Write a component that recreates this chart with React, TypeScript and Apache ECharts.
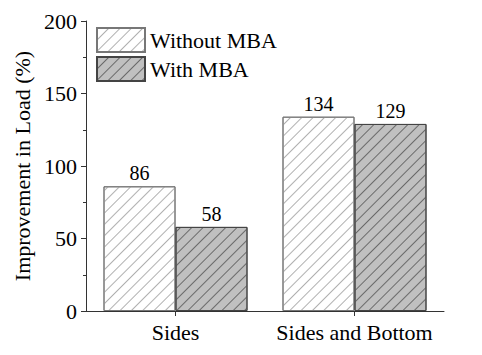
import React, { useEffect, useRef } from "react";
import * as echarts from "echarts";

const categories = ["Sides", "Sides and Bottom"];
const withoutMBA = [86, 134];
const withMBA = [58, 129];
const seriesNames = ["Without MBA", "With MBA"];

const FONT = "Times New Roman, Liberation Serif, DejaVu Serif, serif";

export default function App() {
  const ref = useRef<HTMLDivElement>(null);
  useEffect(() => {
    const chart = echarts.init(ref.current!, null, { renderer: "svg" });
    const hatch = (color: string) => ({
      symbol: "rect",
      symbolSize: 1,
      dashArrayX: [1, 0],
      dashArrayY: [1, 6.5],
      rotation: -Math.PI / 4,
      color,
    });
    const text = { fontFamily: FONT, color: "#000" };
    chart.setOption({
      animation: false,
      backgroundColor: "#ffffff",
      textStyle: { fontFamily: FONT },
      grid: { left: 86, right: 38, top: 21, bottom: 44 },
      legend: {
        orient: "vertical",
        left: 91,
        top: 22,
        itemWidth: 48,
        itemHeight: 24,
        itemGap: 3,
        icon: "rect",
        textStyle: { ...text, fontSize: 22 },
        data: seriesNames,
      },
      xAxis: {
        type: "category",
        data: categories,
        axisLine: { show: true, lineStyle: { color: "#333", width: 1 } },
        axisTick: { show: true, alignWithLabel: true, length: 5, lineStyle: { color: "#333" } },
        axisLabel: { ...text, fontSize: 22, margin: 10, interval: 0 },
        splitLine: { show: false },
      },
      yAxis: {
        type: "value",
        min: 0,
        max: 200,
        interval: 50,
        name: "Improvement in Load (%)",
        nameLocation: "middle",
        nameGap: 45,
        nameTextStyle: { ...text, fontSize: 22 },
        axisLine: { show: true, lineStyle: { color: "#333", width: 1 } },
        axisTick: { show: true, length: 5, lineStyle: { color: "#333" } },
        minorTick: { show: true, splitNumber: 2, length: 3, lineStyle: { color: "#333" } },
        axisLabel: { ...text, fontSize: 22, margin: 9 },
        splitLine: { show: false },
      },
      series: [
        {
          name: seriesNames[0],
          type: "bar",
          data: withoutMBA,
          barWidth: 72,
          barGap: "0%",
          itemStyle: {
            color: "#ffffff",
            borderColor: "#777",
            borderWidth: 1,
            decal: hatch("#b0b0b0"),
          },
          label: { show: true, position: "top", distance: 3, ...text, fontSize: 20 },
        },
        {
          name: seriesNames[1],
          type: "bar",
          data: withMBA,
          barWidth: 72,
          barGap: "0%",
          itemStyle: {
            color: "#c0c0c0",
            borderColor: "#444",
            borderWidth: 1,
            decal: hatch("#6a6a6a"),
          },
          label: { show: true, position: "top", distance: 3, ...text, fontSize: 20 },
        },
      ],
    });
    return () => chart.dispose();
  }, []);
  return <div ref={ref} style={{ width: 482, height: 355, position: "absolute", left: 0, top: 0 }} />;
}
